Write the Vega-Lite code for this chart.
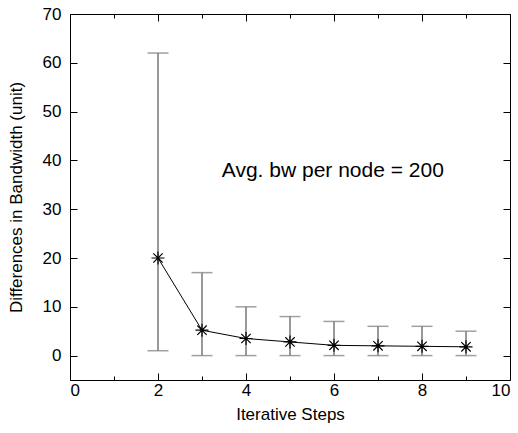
{
  "$schema": "https://vega.github.io/schema/vega-lite/v6.json",
  "width": 440,
  "height": 366,
  "autosize": {"type": "none"},
  "padding": {"left": 70, "top": 14, "right": 8, "bottom": 53},
  "background": "white",
  "config": {
    "font": "Liberation Sans",
    "view": {"stroke": "black", "strokeWidth": 1},
    "axis": {
      "domain": false,
      "grid": false,
      "tickColor": "black",
      "tickWidth": 1,
      "labelFont": "Liberation Sans",
      "labelFontSize": 17,
      "labelColor": "black",
      "titleFont": "Liberation Sans",
      "titleFontSize": 17,
      "titleFontWeight": "normal",
      "titleColor": "black"
    }
  },
  "datasets": {
    "pts": [
      {"step": 2, "diff": 20, "lo": 1, "hi": 62},
      {"step": 3, "diff": 5.2, "lo": 0, "hi": 17},
      {"step": 4, "diff": 3.5, "lo": 0, "hi": 10},
      {"step": 5, "diff": 2.8, "lo": 0, "hi": 8},
      {"step": 6, "diff": 2.1, "lo": 0, "hi": 7},
      {"step": 7, "diff": 2.0, "lo": 0, "hi": 6},
      {"step": 8, "diff": 1.9, "lo": 0, "hi": 6},
      {"step": 9, "diff": 1.8, "lo": 0, "hi": 5}
    ],
    "note": [
      {"x": 3.45, "y": 36.7, "label": "Avg. bw per node = 200"}
    ]
  },
  "layer": [
    {
      "data": {"name": "pts"},
      "mark": {"type": "rule", "color": "#777777", "strokeWidth": 1.5},
      "encoding": {
        "x": {
          "field": "step", "type": "quantitative",
          "scale": {"domain": [0, 10], "nice": false, "zero": false},
          "axis": {"orient": "bottom", "values": [0, 2, 4, 6, 8, 10], "tickSize": -7, "labelPadding": 9, "title": "Iterative Steps", "titlePadding": 8}
        },
        "y": {
          "field": "lo", "type": "quantitative",
          "scale": {"domain": [-5, 70], "nice": false, "zero": false},
          "axis": {"orient": "left", "values": [0, 10, 20, 30, 40, 50, 60, 70], "tickSize": -7, "labelPadding": 16, "title": "Differences in Bandwidth (unit)", "titlePadding": 17}
        },
        "y2": {"field": "hi"}
      }
    },
    {
      "data": {"name": "pts"},
      "mark": {"type": "tick", "orient": "horizontal", "color": "#777777", "size": 21, "thickness": 1.5},
      "encoding": {
        "x": {
          "field": "step", "type": "quantitative",
          "axis": {"orient": "bottom", "values": [1, 3, 5, 7, 9], "tickSize": -4, "labels": false, "title": null}
        },
        "y": {
          "field": "lo", "type": "quantitative",
          "axis": {"orient": "right", "values": [0, 10, 20, 30, 40, 50, 60, 70], "tickSize": -7, "labels": false, "title": null}
        }
      }
    },
    {
      "data": {"name": "pts"},
      "mark": {"type": "tick", "orient": "horizontal", "color": "#777777", "size": 21, "thickness": 1.5},
      "encoding": {
        "x": {
          "field": "step", "type": "quantitative",
          "axis": {"orient": "top", "values": [0, 2, 4, 6, 8, 10], "tickSize": -7, "labels": false, "title": null}
        },
        "y": {"field": "hi", "type": "quantitative", "axis": null}
      }
    },
    {
      "data": {"name": "pts"},
      "mark": {"type": "line", "color": "black", "strokeWidth": 1},
      "encoding": {
        "x": {
          "field": "step", "type": "quantitative",
          "axis": {"orient": "top", "values": [1, 3, 5, 7, 9], "tickSize": -4, "labels": false, "title": null}
        },
        "y": {"field": "diff", "type": "quantitative", "axis": null}
      }
    },
    {
      "data": {"name": "pts"},
      "mark": {
        "type": "point",
        "shape": "M-1,0L1,0M0,-1L0,1M-0.72,-0.72L0.72,0.72M-0.72,0.72L0.72,-0.72",
        "filled": false,
        "stroke": "black",
        "strokeWidth": 1.2,
        "size": 169,
        "opacity": 1
      },
      "encoding": {
        "x": {"field": "step", "type": "quantitative", "axis": null},
        "y": {"field": "diff", "type": "quantitative", "axis": null}
      }
    },
    {
      "data": {"name": "note"},
      "mark": {"type": "text", "align": "left", "baseline": "alphabetic", "fontSize": 21, "font": "Liberation Sans", "color": "black"},
      "encoding": {
        "x": {"field": "x", "type": "quantitative", "axis": null},
        "y": {"field": "y", "type": "quantitative", "axis": null},
        "text": {"field": "label"}
      }
    }
  ],
  "resolve": {"axis": {"x": "independent", "y": "independent"}}
}
